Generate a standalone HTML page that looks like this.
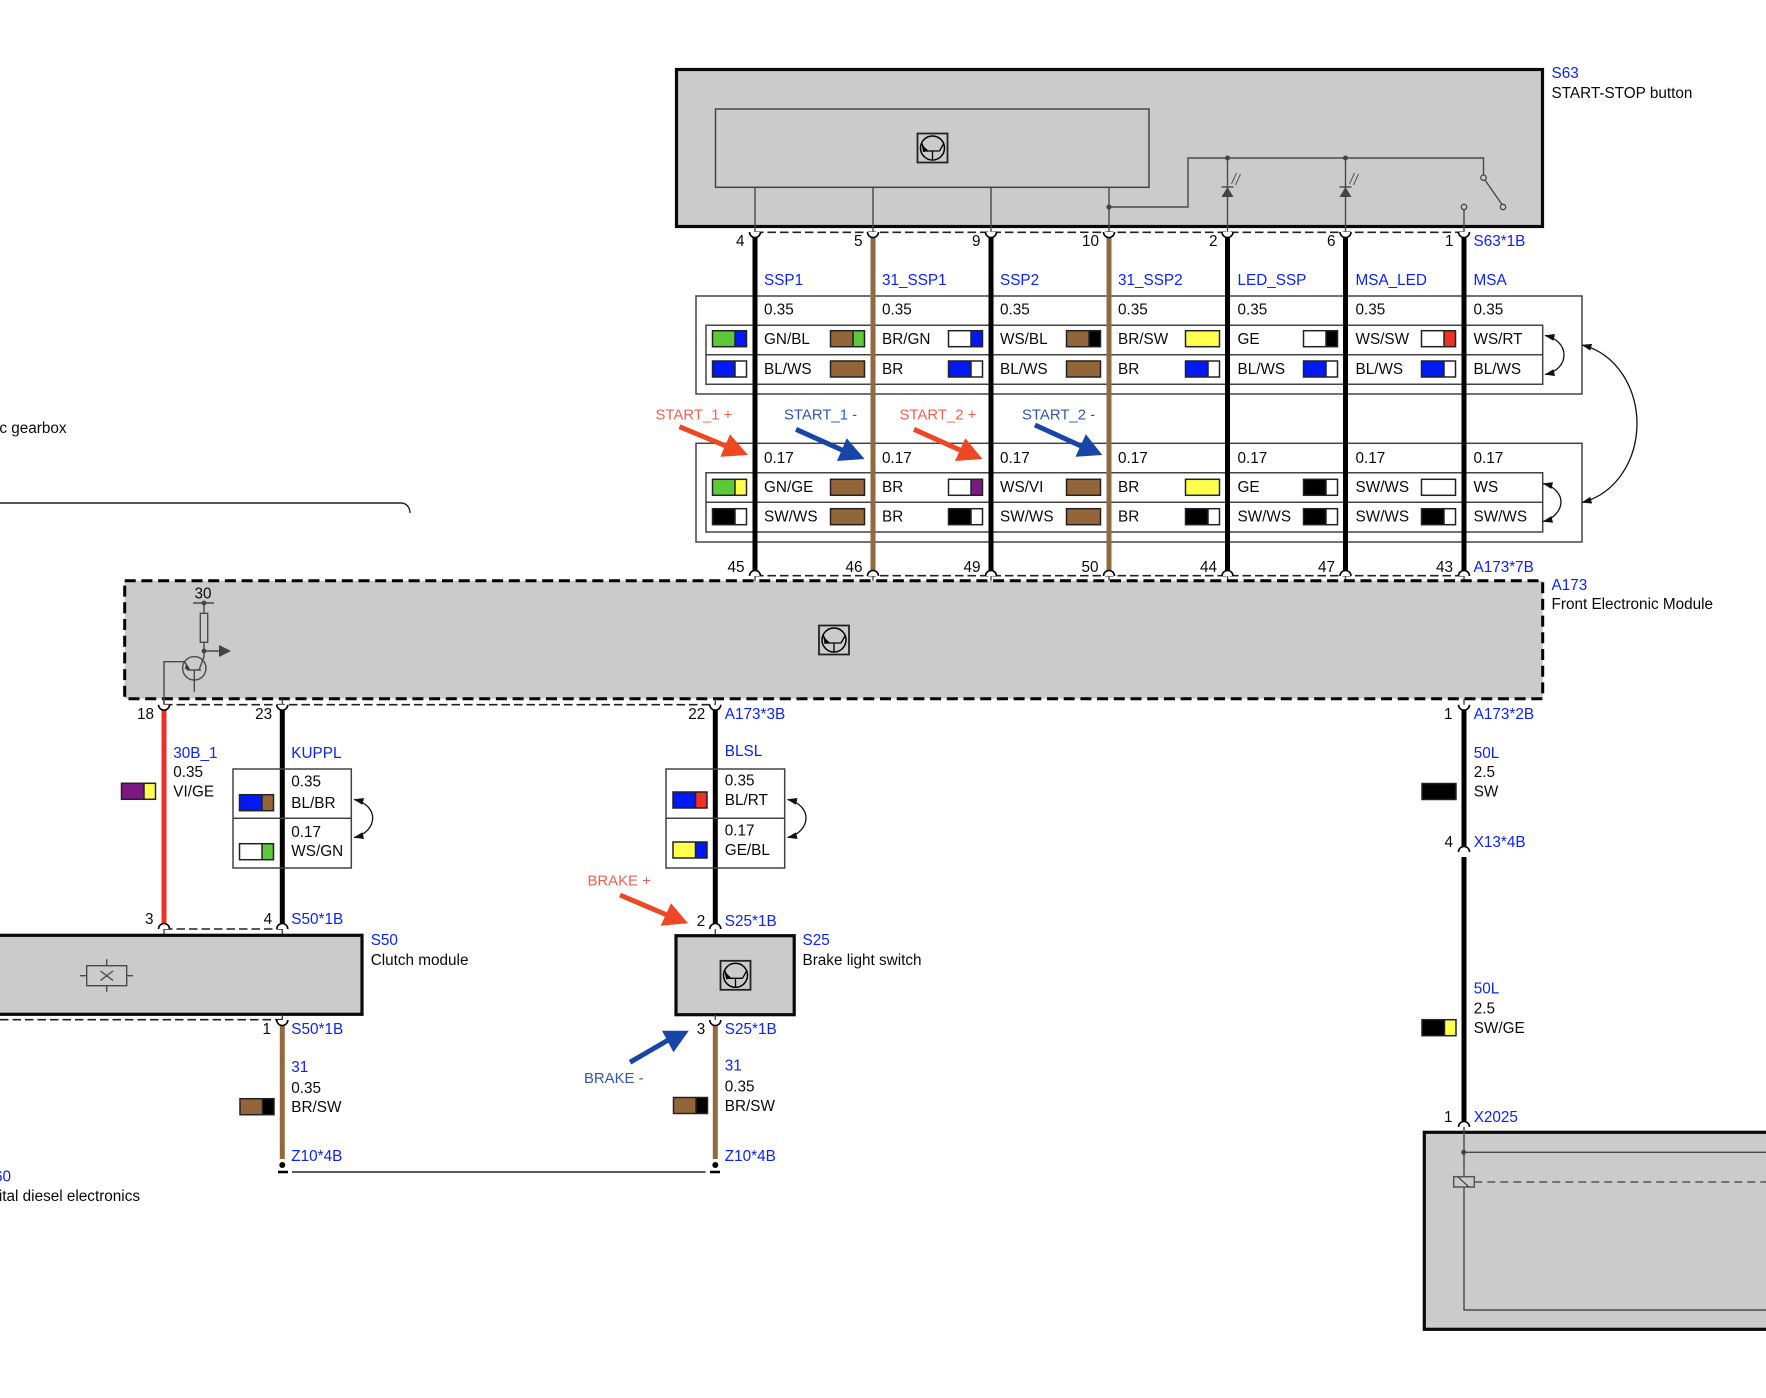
<!DOCTYPE html>
<html><head><meta charset="utf-8"><title>Wiring diagram</title>
<style>
html,body{margin:0;padding:0;background:#fff;overflow:hidden}
svg{display:block}
text{font-family:"Liberation Sans",Arial,sans-serif;font-size:15.3px;fill:#0a0a0a}
.b{fill:#0a22ff}
.e{text-anchor:end}
.r{fill:#f4604e;font-size:14.9px}
.u{fill:#2c58b4;font-size:14.9px}
.box{fill:#cbcbcb;stroke:#0a0a0a;stroke-width:3.2}
.t{fill:none;stroke:#444;stroke-width:1.5}
.th{fill:none;stroke:#4a4a4a;stroke-width:1.4}
.k{stroke:#000;stroke-width:5;fill:none}
.br{stroke:#936a3e;stroke-width:5;fill:none}
.d{stroke:#222;stroke-width:1.6;stroke-dasharray:8.5 4;fill:none}
.lp{fill:none;stroke:#111;stroke-width:1.3;marker-start:url(#ah);marker-end:url(#ah)}
.a-gn{--a:#5cc83a}.a-bl{--a:#0019f5}.a-br{--a:#936639}.a-ws{--a:#fff}.a-ge{--a:#ffff4d}.a-sw{--a:#000}.a-vi{--a:#7a1a80}
.b-gn{--b:#5cc83a}.b-bl{--b:#0019f5}.b-br{--b:#936639}.b-ws{--b:#fff}.b-ge{--b:#ffff4d}.b-sw{--b:#000}.b-vi{--b:#7a1a80}.b-rt{--b:#ee3124}
</style></head><body>
<svg width="1766" height="1398" viewBox="0 0 1766 1398" xmlns="http://www.w3.org/2000/svg">
<defs>
<marker id="ah" viewBox="0 0 10 7" refX="9.5" refY="3.5" markerWidth="10" markerHeight="7" orient="auto-start-reverse" markerUnits="userSpaceOnUse"><path d="M0 0L10 3.5L0 7Z" fill="#111"/></marker>
<g id="sw"><rect width="22.5" height="16" fill="var(--a)"/><rect x="22.5" width="11.5" height="16" fill="var(--b)"/><rect width="34" height="16" fill="none" stroke="#222" stroke-width="1.5"/><path d="M22.5 0v16" stroke="#222" stroke-width="1.5"/></g>
<g id="s1"><rect width="34" height="16" fill="var(--a)" stroke="#222" stroke-width="1.5"/></g>
<path id="cd" d="M-5.5 0A5.5 5.5 0 0 0 5.5 0Z" fill="#fff"/>
<path id="cdl" d="M-5.5 0A5.5 5.5 0 0 0 5.5 0" fill="none" stroke="#000" stroke-width="1.6"/>
<path id="cu" d="M-5.5 0A5.5 5.5 0 0 1 5.5 0" fill="#fff" stroke="#000" stroke-width="1.6"/>
<g id="ic"><rect x="-15" y="-14.5" width="30" height="29" fill="#cbcbcb" stroke="#222" stroke-width="1.8"/><circle r="12" fill="none" stroke="#000" stroke-width="1.5"/><path d="M-7 3H7M0 3V12M7 3L11.5 -5M-7 3L-11 -5" fill="none" stroke="#000" stroke-width="1.3"/><path d="M-10 -2L-5 2.5L-9 3.5Z" fill="#000" stroke="#000"/></g>
<g id="led"><path d="M0 0V68" class="th"/><circle r="2.5" fill="#444"/><path d="M-6 29H6" class="th"/><path d="M0 29L6 39H-6Z" fill="#444"/><path d="M4 26L9 15M8 27L13 16" stroke="#555" stroke-width="1" fill="none"/></g>
</defs>

<!-- S63 -->
<rect class="box" x="676.5" y="69.5" width="866" height="157"/>
<rect class="t" x="715.5" y="109" width="433.5" height="78.3"/>
<use href="#ic" x="932.5" y="148"/>
<path class="th" d="M755 187.3V232M873 187.3V232M991 187.3V232M1109 187.3V232"/>
<circle cx="1109" cy="207" r="2.6" fill="#444"/>
<path class="th" d="M1109 207H1188V158H1483.5V175"/>
<use href="#led" x="1227.5" y="158"/><use href="#led" x="1345.5" y="158"/>
<circle cx="1483.5" cy="177.7" r="2.7" fill="none" stroke="#444" stroke-width="1.3"/>
<path class="th" d="M1485 180L1502 204.5"/>
<circle cx="1503" cy="207" r="2.7" fill="none" stroke="#444" stroke-width="1.3"/>
<circle cx="1464" cy="207" r="2.7" fill="none" stroke="#444" stroke-width="1.3"/>
<path class="th" d="M1464 210V232"/>
<text class="b" x="1551.5" y="78">S63</text>
<text x="1551.5" y="98">START-STOP button</text>

<!-- tables -->
<rect class="t" x="696" y="296" width="886" height="98"/>
<path class="t" d="M706 325.3H1542.7V384.3H706ZM706 354.7H1542.7"/>
<rect class="t" x="696" y="443.3" width="886" height="98.7"/>
<path class="t" d="M706 472.7H1542.7V532H706ZM706 502.3H1542.7"/>

<!-- top dashes -->
<path class="d" d="M755 232.3H1464"/>
<path class="d" d="M755 575.7H1464"/>

<!-- wires -->
<path class="k" d="M755 236V571M991 236V571M1227.5 236V571M1345.5 236V571M1464 236V571"/>
<path class="br" d="M873 236V571M1109 236V571"/>
<g>
<use href="#cd" x="755" y="232"/><use href="#cd" x="873" y="232"/><use href="#cd" x="991" y="232"/><use href="#cd" x="1109" y="232"/><use href="#cd" x="1227.5" y="232"/><use href="#cd" x="1345.5" y="232"/><use href="#cd" x="1464" y="232"/>
<use href="#cdl" x="755" y="232"/><use href="#cdl" x="873" y="232"/><use href="#cdl" x="991" y="232"/><use href="#cdl" x="1109" y="232"/><use href="#cdl" x="1227.5" y="232"/><use href="#cdl" x="1345.5" y="232"/><use href="#cdl" x="1464" y="232"/>
<use href="#cu" x="755" y="576"/><use href="#cu" x="873" y="576"/><use href="#cu" x="991" y="576"/><use href="#cu" x="1109" y="576"/><use href="#cu" x="1227.5" y="576"/><use href="#cu" x="1345.5" y="576"/><use href="#cu" x="1464" y="576"/>
</g>
<path class="th" d="M755 576V581M873 576V581M991 576V581M1109 576V581M1227.5 576V581M1345.5 576V581M1464 576V581"/>
<path class="th" d="M1227.5 226V232M1345.5 226V232"/>

<!-- pins top -->
<text class="e" x="744.5" y="246">4</text><text class="e" x="862.5" y="246">5</text><text class="e" x="980.5" y="246">9</text><text class="e" x="1099" y="246">10</text><text class="e" x="1217.5" y="246">2</text><text class="e" x="1335.5" y="246">6</text><text class="e" x="1453.5" y="246">1</text>
<text class="b" x="1473.5" y="246">S63*1B</text>

<!-- wire names -->
<text class="b" x="764" y="285">SSP1</text><text class="b" x="882" y="285">31_SSP1</text><text class="b" x="1000" y="285">SSP2</text><text class="b" x="1118" y="285">31_SSP2</text><text class="b" x="1237.5" y="285">LED_SSP</text><text class="b" x="1355.5" y="285">MSA_LED</text><text class="b" x="1473.5" y="285">MSA</text>

<g>
<text x="764" y="314.5">0.35</text><text x="882" y="314.5">0.35</text><text x="1000" y="314.5">0.35</text><text x="1118" y="314.5">0.35</text><text x="1237.5" y="314.5">0.35</text><text x="1355.5" y="314.5">0.35</text><text x="1473.5" y="314.5">0.35</text>
<text x="764" y="344">GN/BL</text><text x="882" y="344">BR/GN</text><text x="1000" y="344">WS/BL</text><text x="1118" y="344">BR/SW</text><text x="1237.5" y="344">GE</text><text x="1355.5" y="344">WS/SW</text><text x="1473.5" y="344">WS/RT</text>
<text x="764" y="374">BL/WS</text><text x="882" y="374">BR</text><text x="1000" y="374">BL/WS</text><text x="1118" y="374">BR</text><text x="1237.5" y="374">BL/WS</text><text x="1355.5" y="374">BL/WS</text><text x="1473.5" y="374">BL/WS</text>
<text x="764" y="463">0.17</text><text x="882" y="463">0.17</text><text x="1000" y="463">0.17</text><text x="1118" y="463">0.17</text><text x="1237.5" y="463">0.17</text><text x="1355.5" y="463">0.17</text><text x="1473.5" y="463">0.17</text>
<text x="764" y="492">GN/GE</text><text x="882" y="492">BR</text><text x="1000" y="492">WS/VI</text><text x="1118" y="492">BR</text><text x="1237.5" y="492">GE</text><text x="1355.5" y="492">SW/WS</text><text x="1473.5" y="492">WS</text>
<text x="764" y="521.5">SW/WS</text><text x="882" y="521.5">BR</text><text x="1000" y="521.5">SW/WS</text><text x="1118" y="521.5">BR</text><text x="1237.5" y="521.5">SW/WS</text><text x="1355.5" y="521.5">SW/WS</text><text x="1473.5" y="521.5">SW/WS</text>
</g>

<!-- swatches top -->
<use href="#sw" class="a-gn b-bl" x="712.5" y="330.7"/><use href="#sw" class="a-br b-gn" x="830.5" y="330.7"/><use href="#sw" class="a-ws b-bl" x="948.5" y="330.7"/><use href="#sw" class="a-br b-sw" x="1066.5" y="330.7"/><use href="#s1" class="a-ge" x="1185.5" y="330.7"/><use href="#sw" class="a-ws b-sw" x="1303.5" y="330.7"/><use href="#sw" class="a-ws b-rt" x="1421.5" y="330.7"/>
<use href="#sw" class="a-bl b-ws" x="712.5" y="361"/><use href="#s1" class="a-br" x="830.5" y="361"/><use href="#sw" class="a-bl b-ws" x="948.5" y="361"/><use href="#s1" class="a-br" x="1066.5" y="361"/><use href="#sw" class="a-bl b-ws" x="1185.5" y="361"/><use href="#sw" class="a-bl b-ws" x="1303.5" y="361"/><use href="#sw" class="a-bl b-ws" x="1421.5" y="361"/>
<use href="#sw" class="a-gn b-ge" x="712.5" y="479.3"/><use href="#s1" class="a-br" x="830.5" y="479.3"/><use href="#sw" class="a-ws b-vi" x="948.5" y="479.3"/><use href="#s1" class="a-br" x="1066.5" y="479.3"/><use href="#s1" class="a-ge" x="1185.5" y="479.3"/><use href="#sw" class="a-sw b-ws" x="1303.5" y="479.3"/><use href="#s1" class="a-ws" x="1421.5" y="479.3"/>
<use href="#sw" class="a-sw b-ws" x="712.5" y="508.7"/><use href="#s1" class="a-br" x="830.5" y="508.7"/><use href="#sw" class="a-sw b-ws" x="948.5" y="508.7"/><use href="#s1" class="a-br" x="1066.5" y="508.7"/><use href="#sw" class="a-sw b-ws" x="1185.5" y="508.7"/><use href="#sw" class="a-sw b-ws" x="1303.5" y="508.7"/><use href="#sw" class="a-sw b-ws" x="1421.5" y="508.7"/>

<!-- loops -->
<path class="lp" d="M1545 335.5C1557 338 1564 346 1564 355C1564 364 1557 372 1545 374.5"/>
<path class="lp" d="M1543 483.5C1554 486 1561 494 1561 502C1561 510 1554 519 1543 521.5"/>
<path class="lp" d="M1582 345C1618 354 1637 390 1637 423C1637 458 1618 493 1582 502.5"/>

<!-- START labels and arrows -->
<text class="r" x="655.5" y="419.5">START_1 +</text><text class="u" x="784" y="419.5">START_1 -</text><text class="r" x="899.5" y="419.5">START_2 +</text><text class="u" x="1022" y="419.5">START_2 -</text>
<path d="M679.4 426.7L726 446" stroke="#ee4723" stroke-width="5" fill="none"/><path d="M748 455L730 434.3L720.4 456.7Z" fill="#ee4723"/>
<path d="M796 429.3L842 450" stroke="#1746a8" stroke-width="5" fill="none"/><path d="M864.6 459L846.7 438.3L837 461Z" fill="#1746a8"/>
<path d="M914 429.3L960 450" stroke="#ee4723" stroke-width="5" fill="none"/><path d="M982.5 459L965.3 438.3L955 461Z" fill="#ee4723"/>
<path d="M1035 425L1081 446" stroke="#1746a8" stroke-width="5" fill="none"/><path d="M1102.3 455L1085.8 434.3L1075.5 456.7Z" fill="#1746a8"/>

<!-- lower pins -->
<text class="e" x="744.5" y="572">45</text><text class="e" x="862.5" y="572">46</text><text class="e" x="980.5" y="572">49</text><text class="e" x="1098.5" y="572">50</text><text class="e" x="1217" y="572">44</text><text class="e" x="1335" y="572">47</text><text class="e" x="1453" y="572">43</text>
<text class="b" x="1473.5" y="572">A173*7B</text>

<!-- gearbox leftovers -->
<text class="e" x="66.5" y="433">Automatic gearbox</text>
<path d="M0 503H401C406 503 410 507 410 513" fill="none" stroke="#222" stroke-width="1.4"/>

<!-- A173 -->
<rect x="124.7" y="580.7" width="1418" height="118" fill="#cbcbcb"/>
<rect x="124.7" y="580.7" width="1418" height="118" fill="none" stroke="#000" stroke-width="3" stroke-dasharray="11 5.7"/>
<use href="#ic" x="834" y="640"/>
<text class="b" x="1551.5" y="590">A173</text>
<text x="1551.5" y="609">Front Electronic Module</text>
<text x="203" y="598.5" text-anchor="middle">30</text>
<path class="th" d="M193 603H214M204 603V613.3M204 642.3V657M204 651H222"/>
<circle cx="204" cy="603" r="2.4" fill="#444"/><circle cx="204" cy="651" r="2.4" fill="#444"/>
<rect class="th" x="200.3" y="613.3" width="7.4" height="29"/>
<path d="M219 645L231 651L219 657Z" fill="#444"/>
<circle class="th" cx="194.3" cy="668.3" r="11.7"/>
<path class="th" d="M164 705V661.7H184.5L189.3 669.3M187.3 670H201M204 656.7L199.3 669.3M194.3 670V691.7"/>
<path d="M186 664L190 670L185 669Z" fill="#333"/>

<!-- lower connections of A173 -->
<path class="d" d="M164 704.7H715"/>
<path class="th" d="M164 699V705M282.3 699V705M715.3 699V705M1464 699V705"/>
<path d="M164 709V924" stroke="#ee3124" stroke-width="5"/>
<path class="k" d="M282.3 709V924M715.3 709V924M1464 709V848M1464 857V1123"/>
<use href="#cd" x="164" y="704.7"/><use href="#cd" x="282.3" y="704.7"/><use href="#cd" x="715.3" y="704.7"/><use href="#cd" x="1464" y="704.7"/>
<use href="#cdl" x="164" y="704.7"/><use href="#cdl" x="282.3" y="704.7"/><use href="#cdl" x="715.3" y="704.7"/><use href="#cdl" x="1464" y="704.7"/>
<text class="e" x="154" y="719">18</text><text class="e" x="272.2" y="719">23</text><text class="e" x="705.3" y="719">22</text><text class="e" x="1452.5" y="719">1</text>
<text class="b" x="724.8" y="719">A173*3B</text><text class="b" x="1473.7" y="719">A173*2B</text>

<!-- 30B_1 -->
<text class="b" x="173.3" y="758">30B_1</text><text x="173.3" y="777">0.35</text><text x="173.3" y="796.5">VI/GE</text>
<use href="#sw" class="a-vi b-ge" x="121.5" y="783.3"/>

<!-- KUPPL -->
<text class="b" x="291.3" y="758">KUPPL</text>
<path class="t" d="M233 769H351.3V868H233ZM233 818.3H351.3"/>
<text x="291.3" y="786.5">0.35</text><text x="291.3" y="808">BL/BR</text><text x="291.3" y="837">0.17</text><text x="291.3" y="856">WS/GN</text>
<use href="#sw" class="a-bl b-br" x="239.5" y="794.7"/><use href="#sw" class="a-ws b-gn" x="239.5" y="843.7"/>
<path class="lp" d="M354 799.5C366 802 372.7 810 372.7 818C372.7 826 366 835 354 837.5"/>

<!-- BLSL -->
<text class="b" x="724.8" y="756">BLSL</text>
<path class="t" d="M666 769H784.7V868H666ZM666 818.3H784.7"/>
<text x="724.8" y="785.5">0.35</text><text x="724.8" y="805">BL/RT</text><text x="724.8" y="835.5">0.17</text><text x="724.8" y="855">GE/BL</text>
<use href="#sw" class="a-bl b-rt" x="673" y="792"/><use href="#sw" class="a-ge b-bl" x="673" y="842"/>
<path class="lp" d="M787.5 799.5C799.5 802 806 810 806 818C806 826 799.5 835 787.5 837.5"/>

<!-- BRAKE -->
<text class="r" x="587.5" y="885.5">BRAKE +</text>
<path d="M620 895L667 915" stroke="#ee4723" stroke-width="5" fill="none"/><path d="M688 923.3L671 903.3L660.7 925.7Z" fill="#ee4723"/>
<text class="u" x="584" y="1083">BRAKE -</text>
<path d="M630 1062.3L670 1039" stroke="#1746a8" stroke-width="5" fill="none"/><path d="M688.8 1030.7L662 1030.7L673.5 1052.3Z" fill="#1746a8"/>

<!-- S50 -->
<path class="d" d="M164 929H282.3"/>
<path class="d" d="M0 1019.7H282.3"/>
<use href="#cu" x="164" y="929"/><use href="#cu" x="282.3" y="929"/><use href="#cu" x="715.3" y="929"/>
<path class="th" d="M164 929V935M282.3 929V935M715.3 929V935"/>
<text class="e" x="153.5" y="924">3</text><text class="e" x="272.2" y="924">4</text><text class="e" x="705.3" y="926">2</text>
<text class="b" x="291.3" y="924">S50*1B</text><text class="b" x="724.8" y="926">S25*1B</text>
<rect class="box" x="-5" y="935.3" width="367" height="79"/>
<rect class="th" x="86.7" y="965.7" width="40" height="20" stroke-width="1.6"/>
<path class="th" d="M80 975.7H86.7M126.7 975.7H133M106.7 959.3V965.7M106.7 985.7V991.7M100.5 971L113 980.5M113 971L100.5 980.5"/>
<text class="b" x="370.7" y="945">S50</text><text x="370.7" y="965">Clutch module</text>

<!-- S25 -->
<rect class="box" x="676" y="935.7" width="118.2" height="79"/>
<use href="#ic" x="735.5" y="975.3"/>
<text class="b" x="802.5" y="945">S25</text><text x="802.5" y="965">Brake light switch</text>

<!-- lower brown -->
<path class="th" d="M282.3 1015V1020M715.3 1015V1020"/>
<path class="br" d="M282.3 1024V1159M715.3 1024V1159"/>
<use href="#cd" x="282.3" y="1020"/><use href="#cd" x="715.3" y="1020"/>
<use href="#cdl" x="282.3" y="1020"/><use href="#cdl" x="715.3" y="1020"/>
<text class="e" x="271" y="1034">1</text><text class="e" x="705.3" y="1034">3</text>
<text class="b" x="291.3" y="1034">S50*1B</text><text class="b" x="724.8" y="1034">S25*1B</text>
<text class="b" x="291.3" y="1072">31</text><text x="291.3" y="1093">0.35</text><text x="291.3" y="1112">BR/SW</text>
<use href="#sw" class="a-br b-sw" x="240" y="1098.7"/>
<text class="b" x="724.8" y="1070.5">31</text><text x="724.8" y="1091.5">0.35</text><text x="724.8" y="1111">BR/SW</text>
<use href="#sw" class="a-br b-sw" x="673.5" y="1097.5"/>
<text class="b" x="291.3" y="1161">Z10*4B</text><text class="b" x="724.8" y="1161">Z10*4B</text>
<circle cx="282.3" cy="1165" r="3" fill="#000"/><circle cx="715.3" cy="1165" r="3" fill="#000"/>
<path d="M278 1172H288M710 1172H720" stroke="#000" stroke-width="2.5"/>
<path d="M292 1172H705.6" stroke="#222" stroke-width="1.5"/>
<text class="b e" x="11" y="1181.5">S60</text>
<text class="e" x="140" y="1201">Digital diesel electronics</text>

<!-- 50L -->
<text class="b" x="1473.7" y="758">50L</text><text x="1473.7" y="777">2.5</text><text x="1473.7" y="796.5">SW</text>
<use href="#s1" class="a-sw" x="1422" y="783.5"/>
<text class="e" x="1453" y="847">4</text><text class="b" x="1473.7" y="847">X13*4B</text>
<use href="#cu" x="1464" y="852"/>
<text class="b" x="1473.7" y="993.7">50L</text><text x="1473.7" y="1013.5">2.5</text><text x="1473.7" y="1033">SW/GE</text>
<use href="#sw" class="a-sw b-ge" x="1422" y="1019.7"/>
<text class="e" x="1452.5" y="1122">1</text><text class="b" x="1473.7" y="1122">X2025</text>

<!-- X2025 box -->
<rect class="box" x="1424.3" y="1132.3" width="360" height="197"/>
<use href="#cu" x="1464" y="1127"/>
<path class="th" d="M1464 1127V1310H1770M1464 1152.3H1770"/>
<circle cx="1463.7" cy="1152.3" r="2.5" fill="#444"/>
<rect x="1453.7" y="1176.7" width="20.6" height="10.3" fill="#cbcbcb" stroke="#555" stroke-width="1.5"/>
<path d="M1458 1177L1469 1187" stroke="#444" stroke-width="1.2"/>
<path d="M1474.3 1182H1770" stroke="#555" stroke-width="1.5" stroke-dasharray="8 5" fill="none"/>
</svg>
</body></html>
